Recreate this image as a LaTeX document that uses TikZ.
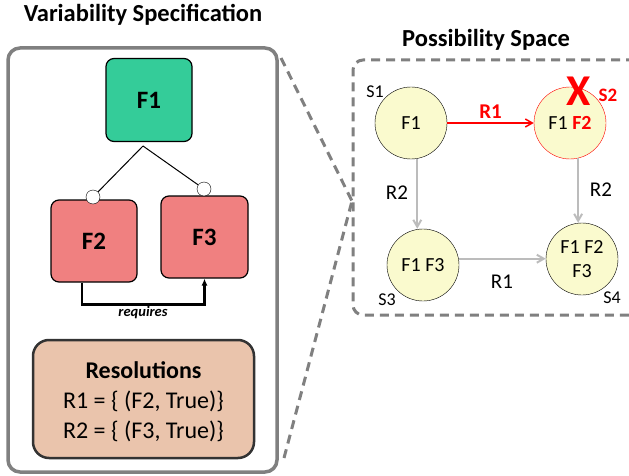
\documentclass[tikz,border=0pt]{standalone}
\usepackage{fontspec}
\setmainfont{Carlito}
\usetikzlibrary{arrows.meta, calc}
\definecolor{featgreen}{RGB}{52,204,153}
\definecolor{featred}{RGB}{240,128,128}
\definecolor{resotan}{RGB}{234,196,172}
\definecolor{stateyellow}{RGB}{250,250,206}
\definecolor{framegray}{RGB}{128,128,128}
\definecolor{transgray}{RGB}{188,188,188}

\begin{document}
\begin{tikzpicture}[x=1pt, y=-1pt]
	\useasboundingbox (0,0) rectangle (629,476);
	\tikzset{
		feature/.style={draw, line width=1.2, rounded corners=8, inner sep=0, font=\bfseries\fontsize{25}{28}\selectfont},
		optcirc/.style={draw, circle, fill=white, minimum size=14, inner sep=0},
		state/.style={draw, circle, fill=stateyellow, minimum size=72, inner sep=0, align=center, font=\fontsize{20}{24}\selectfont},
		trans/.style={transgray, line width=2, -{Straight Barb[length=7, width=8]}},
		lbl/.style={font=\fontsize{18}{20}\selectfont},
		rlbl/.style={font=\fontsize{21}{24}\selectfont},
		framedash/.style={framegray, line width=3, dash pattern=on 9 off 6}
	}
	
	% titles
	\node[font=\bfseries\fontsize{24.5}{28}\selectfont] (vtitle) at (143,15) {Variability Specification};
	\node[font=\bfseries\fontsize{24.5}{28}\selectfont] (ptitle) at (486,40) {Possibility Space};
	
	% frames
	\draw[framegray, line width=3.5, rounded corners=12] (8,48) rectangle (277,472);
	\draw[framedash, rounded corners=10] (650,60) -- (353,60) -- (353,315) -- (650,315);
	\coordinate (zt) at (281,58);
	\coordinate (zb) at (284,458);
	\coordinate (zm) at (352,201);
	\draw[framedash] (zt) -- (zm);
	\draw[framedash] (zb) -- (zm);
	
	% feature model
	\node[feature, fill=featgreen, minimum width=86, minimum height=83] (f1) at (149,100) {F1};
	\node[feature, fill=featred, minimum width=86, minimum height=82] (f2) at (94,241) {F2};
	\node[feature, fill=featred, minimum width=87, minimum height=82] (f3) at (204.5,237) {F3};
	\coordinate (fork) at (143,146);
	\node[optcirc] (o2) at (93,197) {};
	\node[optcirc] (o3) at (204,189) {};
	\draw[line width=1] (fork) -- (o2);
	\draw[line width=1] (fork) -- (o3);
	
	\draw[line width=2.5, -{Latex[length=7, width=6]}] ($(f2.south)+(-12,0)$) -- ++(0,22) -| (f3.south);
	\node[font=\bfseries\itshape\fontsize{14.5}{16}\selectfont] (req) at (143,313) {requires};
	
	% resolutions
	\node[draw=black!80, line width=2.5, fill=resotan, rounded corners=16, minimum width=221, minimum height=118] (res) at (143.5,399) {};
	\node[align=center, font=\fontsize{24}{30}\selectfont] (restxt) at (143.5,402) {\textbf{Resolutions}\\R1 = \{ (F2, True)\}\\R2 = \{ (F3, True)\}};
	
	% possibility space
	\begin{scope}[every node/.style={state}]
	\node (s1) at (411,123) {F1};
	\node[draw=red] (s2) at (570,123) {F1 \textcolor{red}{\textbf{F2}}};
	\node (s3) at (423,265) {F1 F3};
	\node (s4) at (582,259) {F1 F2\\F3};
	\end{scope}
	
	\node[lbl] (l1) at (375,92) {S1};
	\node[lbl, text=red, font=\bfseries\fontsize{19}{20}\selectfont] (l2) at (608,95) {S2};
	\node[lbl] (l3) at (387,300) {S3};
	\node[lbl] (l4) at (612,298) {S4};
	\node[text=red, font=\bfseries\fontsize{44}{44}\selectfont] (cross) at (579,91) {X};
	
	\draw[red, line width=1.5, -{Straight Barb[length=7, width=8]}] (s1) to node [midway, above, font=\bfseries\fontsize{21}{24}\selectfont] {R1} (s2);
	\draw[trans] (s1.-80) to (s1.-80 |- s3.north);
	\draw[trans] (s2.-77) to (s2.-77 |- s4.north);
	\draw[trans] (s3.10) to (s3.10 -| s4.west);
	\node[rlbl] (r2a) at (397,193) {R2};
	\node[rlbl] (r2b) at (601,190) {R2};
	\node[rlbl] (r1b) at (502,282) {R1};
\end{tikzpicture}
\end{document}
